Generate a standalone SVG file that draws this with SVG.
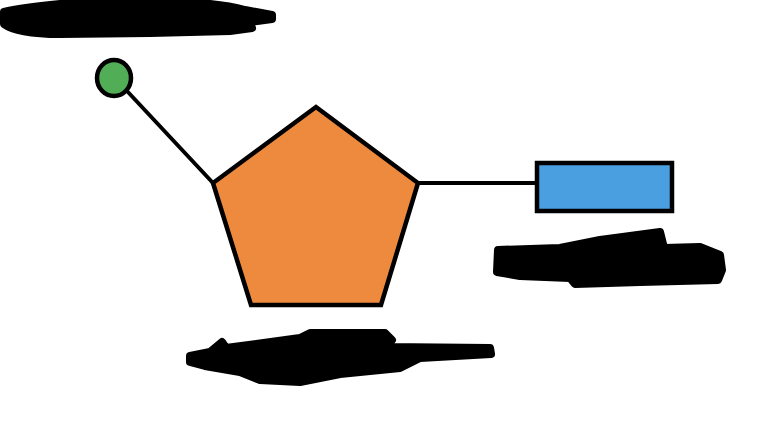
<svg xmlns="http://www.w3.org/2000/svg" width="778" height="426" viewBox="0 0 778 426">
<style>
.ln{stroke:#000;stroke-width:4;fill:none;stroke-linecap:round}
.sh{stroke:#000;stroke-width:4.5;stroke-linejoin:miter}
.scr{fill:#000;stroke:#000;stroke-width:8;stroke-linejoin:round;stroke-linecap:round}
</style>
<rect width="778" height="426" fill="#fff"/>
<g id="connectors">
<line class="ln" x1="127" y1="91" x2="213" y2="183"/>
<line class="ln" x1="418" y1="183" x2="537" y2="183"/>
</g>
<g id="phosphate">
<ellipse class="sh" cx="114" cy="78" rx="17" ry="18" fill="#52ad57"/>
</g>
<g id="sugar">
<polygon class="sh" points="316,107 418,183 381,305 251,305 213,183" fill="#ee8a3e"/>
</g>
<g id="base">
<rect class="sh" x="537" y="163" width="135" height="48" fill="#4a9fe0"/>
</g>
<g id="redactions">
<path class="scr" d="M4,12 C20,8 40,6 60,4 L180,2 C210,3 230,6 245,10 L272,15 L272,19 L250,22 L252,28 L230,31 L150,33 L60,34 C30,34 12,30 4,24 Z"/>
<path class="scr" d="M498,250 L560,248 L600,240 L660,232 L664,248 L700,247 L720,255 L722,270 L718,280 L640,282 L575,284 L570,278 L520,276 L497,272 Z"/>
<path class="scr" d="M190,356 L210,352 L222,342 L226,348 L300,338 L310,333 L385,333 L392,340 L386,347 L490,348 L491,354 L420,358 L400,368 L340,374 L300,382 L260,380 L240,372 L205,366 L190,362 Z"/>
</g>
</svg>
